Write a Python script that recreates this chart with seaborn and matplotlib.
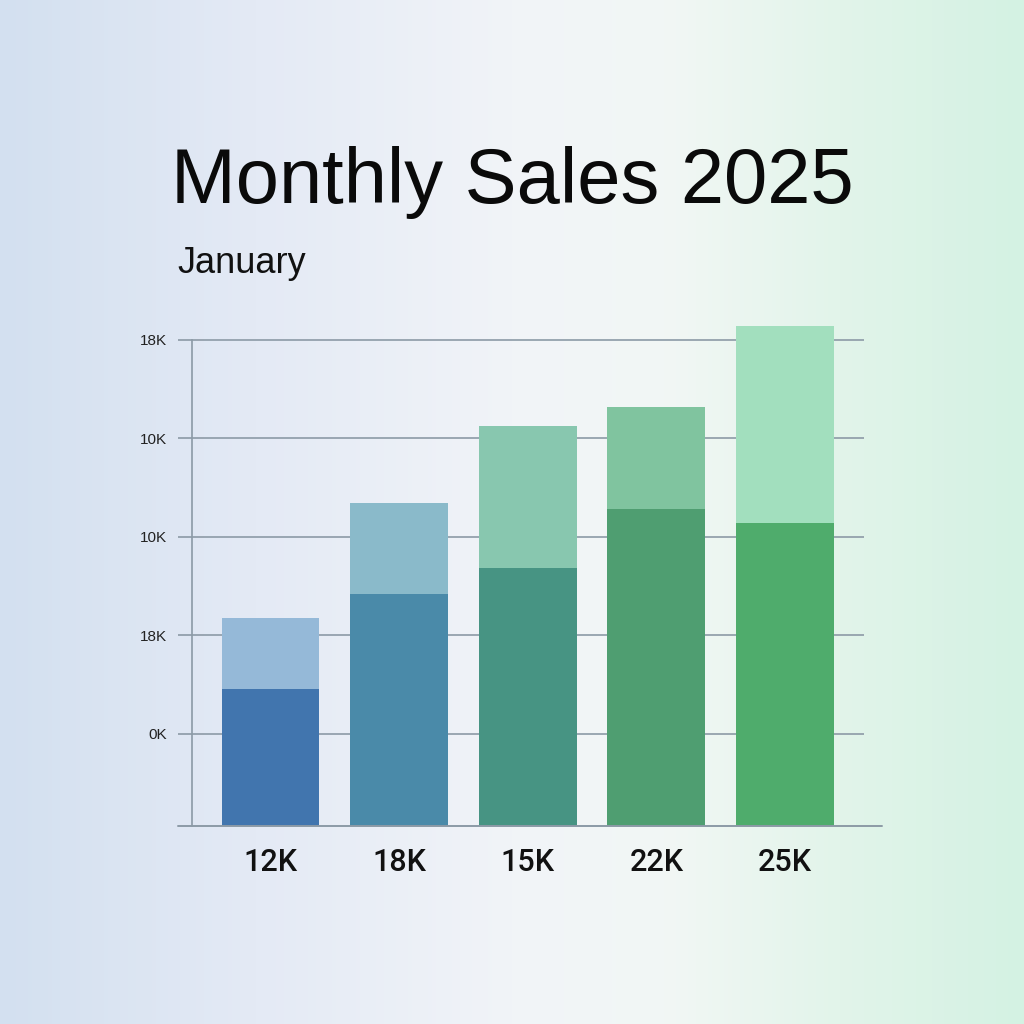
import numpy as np
import pandas as pd
import matplotlib
matplotlib.use("Agg")
import matplotlib.pyplot as plt
from matplotlib.colors import LinearSegmentedColormap
import seaborn as sns

# ---- data ----
categories = ["12K", "18K", "15K", "22K", "25K"]
base_values = [5.56, 9.42, 10.49, 12.87, 12.32]     # darker lower segment
total_values = [8.43, 13.10, 16.24, 17.02, 20.30]   # full bar height (lighter top)
ytick_values = [3.75, 7.75, 11.75, 15.75, 19.75]
ytick_labels = ["0K", "18K", "10K", "10K", "18K"]
title_text = "Monthly Sales 2025"
subtitle_text = "January"

dark_colors = ["#4175AE", "#4A8AA9", "#479483", "#4F9E71", "#4FAC6C"]
light_colors = ["#95B9D8", "#8ABACA", "#88C7AF", "#80C49F", "#A2DFBE"]

sns.set_theme(style="white")
plt.rcParams["font.family"] = ["Liberation Sans", "DejaVu Sans"]

fig = plt.figure(figsize=(10.24, 10.24), dpi=100)

# background gradient
bg = fig.add_axes([0, 0, 1, 1], zorder=-10)
cmap = LinearSegmentedColormap.from_list(
    "bg",
    [(0.0, "#D3E0F0"), (0.25, "#E4EAF5"), (0.5, "#F1F4F8"),
     (0.65, "#F2F7F5"), (0.82, "#E2F4EA"), (1.0, "#D4F2E3")])
grad = np.linspace(0, 1, 512)[None, :]
bg.imshow(grad, aspect="auto", cmap=cmap, extent=[0, 1, 0, 1])
bg.set_axis_off()

W = H = 1024.0
left_px, right_px, bottom_px, top_px = 192, 882, 826, 320
ax = fig.add_axes([left_px / W, 1 - bottom_px / H,
                   (right_px - left_px) / W, (bottom_px - top_px) / H])
ax.set_facecolor("none")

df = pd.DataFrame({"cat": categories, "base": base_values, "total": total_values})

sns.barplot(data=df, x="cat", y="total", hue="cat", palette=light_colors,
            legend=False, width=0.762, saturation=1, linewidth=0,
            ax=ax, zorder=3)
sns.barplot(data=df, x="cat", y="base", hue="cat", palette=dark_colors,
            legend=False, width=0.762, saturation=1, linewidth=0,
            ax=ax, zorder=4)

spacing = 128.6
x0 = 270.5
ax.set_xlim((left_px - x0) / spacing, (right_px - x0) / spacing)
ax.set_ylim(0, (bottom_px - top_px) / 24.625)

grid_color = "#8C9AA6"
grid_end = (864 - x0) / spacing
ax.hlines(ytick_values, ax.get_xlim()[0], grid_end, colors=grid_color,
          linewidth=1.2, zorder=1)

for s in ["top", "right"]:
    ax.spines[s].set_visible(False)
ax.spines["left"].set_color(grid_color)
ax.spines["left"].set_linewidth(1.2)
ax.spines["left"].set_bounds(0, ytick_values[-1])
ax.spines["bottom"].set_visible(False)
ax.axhline(0, xmin=-14 / (right_px - left_px), xmax=1, color=grid_color,
           linewidth=1.4, clip_on=False, zorder=5)

ax.set_yticks(ytick_values)
ax.set_yticklabels(ytick_labels)
ax.tick_params(axis="y", length=10, width=1.2, color=grid_color, pad=8,
               labelsize=11, labelcolor="#222222", left=True)
ax.tick_params(axis="x", length=0, pad=16, labelsize=22, labelcolor="#111111")
for lab in ax.get_xticklabels():
    lab.set_family(["Roboto", "Liberation Sans", "DejaVu Sans"])
    lab.set_fontweight("medium")
ax.set_xlabel("")
ax.set_ylabel("")

fig.text(0.5, 1 - 203 / H, title_text, ha="center", va="baseline",
         fontsize=56, color="#0A0A0A")
fig.text(177 / W, 1 - 273 / H, subtitle_text, ha="left", va="baseline",
         fontsize=26, color="#111111")

fig.savefig("out.png", dpi=100)
